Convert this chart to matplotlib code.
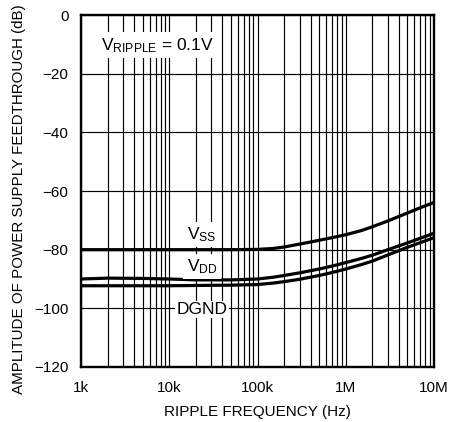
import matplotlib
matplotlib.use("Agg")
import matplotlib.pyplot as plt
from matplotlib.ticker import FixedLocator, NullFormatter

plt.rcParams['font.family'] = ['Liberation Sans', 'DejaVu Sans']

# ripple frequency (Hz)
freq = [1e3, 2e3, 5e3, 1e4, 2e4, 5e4, 1e5, 1.5e5, 2e5, 3e5, 5e5, 7e5,
        1e6, 1.5e6, 2e6, 3e6, 5e6, 7e6, 1e7]
# feedthrough amplitude (dB)
vss = [-80.0, -80.0, -80.0, -80.0, -80.0, -80.0, -79.9, -79.6, -79.1, -78.1, -76.8, -75.9,
       -74.9, -73.5, -72.2, -70.2, -67.5, -65.7, -63.9]
vdd = [-90.0, -89.7, -89.8, -90.0, -90.3, -90.3, -90.0, -89.4, -88.8, -87.9, -86.6, -85.6,
       -84.4, -83.0, -81.9, -80.0, -77.7, -76.1, -74.4]
dgnd = [-92.3, -92.3, -92.3, -92.3, -92.2, -92.1, -91.9, -91.4, -90.9, -90.1, -88.8, -87.8,
        -86.6, -85.1, -83.9, -81.8, -79.2, -77.6, -75.9]

xticks = [1e3, 1e4, 1e5, 1e6, 1e7]
xlabels = ['1k', '10k', '100k', '1M', '10M']
yticks = [0, -20, -40, -60, -80, -100, -120]
ylabels = ['0', '\u221220', '\u221240', '\u221260', '\u221280', '\u2212100', '\u2212120']

fig = plt.figure(figsize=(4.52, 4.22), dpi=100)
ax = fig.add_axes([81 / 452, 1 - 367 / 422, 353 / 452, 352 / 422])

ax.set_xscale('log')
ax.set_xlim(1e3, 1e7)
ax.set_ylim(-120, 0)

minor = [m * 10 ** d for d in range(3, 7) for m in range(2, 10)]
ax.xaxis.set_minor_locator(FixedLocator(minor))
ax.xaxis.set_minor_formatter(NullFormatter())
ax.set_xticks(xticks)
ax.set_xticklabels(xlabels)
ax.set_yticks(yticks)
ax.set_yticklabels(ylabels)
ax.tick_params(which='both', length=0, labelsize=11)
ax.tick_params(axis='x', pad=10)
ax.tick_params(axis='y', pad=9)
ax.grid(True, which='both', axis='x', color='black', linewidth=0.85)
ax.grid(True, which='major', axis='y', color='black', linewidth=0.85)

for s in ax.spines.values():
    s.set_linewidth(1.7)

lw = 2.3
ax.plot(freq, vss, color='black', linewidth=lw, zorder=3)
ax.plot(freq, vdd, color='black', linewidth=lw, zorder=3)
ax.plot(freq, dgnd, color='black', linewidth=lw, zorder=3)

box = dict(facecolor='white', edgecolor='none', pad=2.5)
ax.text(7.3e3, -11.9, '$\\mathregular{V_{RIPPLE}}$ = 0.1V', fontsize=12.5, ha='center', va='baseline', bbox=box, zorder=4)
ax.text(2.35e4, -76.4, '$\\mathregular{V_{SS}}$', fontsize=12.5, ha='center', va='baseline', bbox=box, zorder=4)
ax.text(2.35e4, -87.3, '$\\mathregular{V_{DD}}$', fontsize=12.5, ha='center', va='baseline', bbox=box, zorder=4)
ax.text(2.35e4, -101.9, 'DGND', fontsize=12.5, ha='center', va='baseline', bbox=dict(facecolor='white', edgecolor='none', pad=1), zorder=4)

ax.set_xlabel('RIPPLE FREQUENCY (Hz)', fontsize=11, labelpad=7)
fig.text(19 / 452, 1 - 394 / 422, 'AMPLITUDE OF POWER SUPPLY FEEDTHROUGH (dB)', rotation=90,
         ha='center', va='bottom', fontsize=10.9)

fig.savefig('out.png', dpi=100)
